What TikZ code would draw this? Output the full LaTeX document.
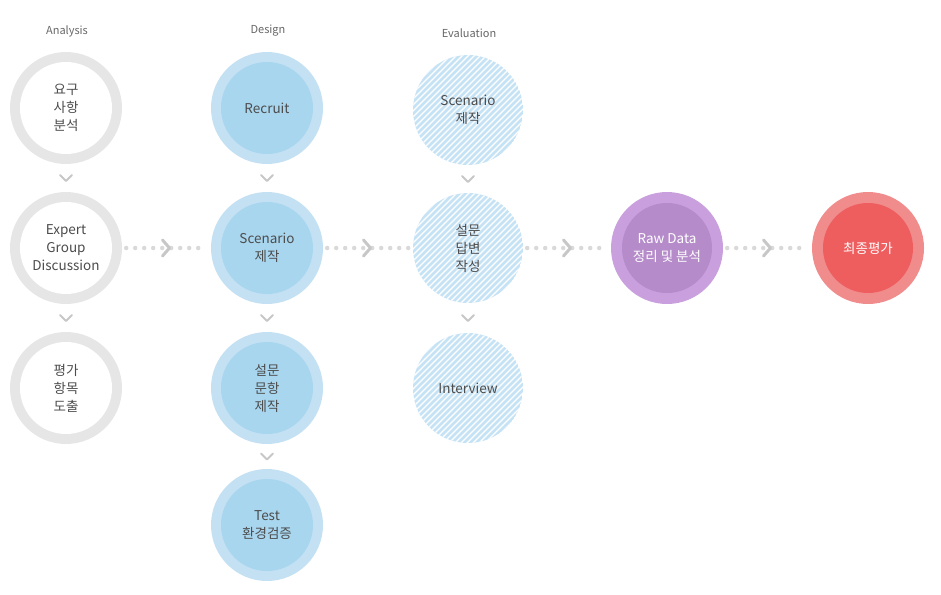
\documentclass[tikz,border=0pt]{standalone}
\usepackage{fontspec}
\setmainfont{Noto Sans CJK KR}
\usetikzlibrary{calc}
\begin{document}
\begin{tikzpicture}[x=1pt,y=-1pt,
  txt/.style={font=\fontsize{13.5}{18}\selectfont, text=black!70, align=center},
  hdr/.style={font=\fontsize{11}{12}\selectfont, text=black!60},
  dotline/.style={draw=black!15, line width=4.5pt, line cap=round, dash pattern=on 0pt off 9pt, shorten >=4pt, shorten <=4pt},
  chev/.style={draw=black!22, line width=3pt, line cap=round, line join=round}]
\definecolor{gring}{HTML}{E6E6E6}
\definecolor{bout}{HTML}{C3E1F2}
\definecolor{bin}{HTML}{A9D6EF}
\definecolor{hatch}{HTML}{C6E2F5}
\definecolor{purout}{HTML}{C9A0DD}
\definecolor{purin}{HTML}{B58BCA}
\definecolor{redout}{HTML}{F08C8C}
\definecolor{redin}{HTML}{EF5E5F}
\useasboundingbox (0,0) rectangle (941,594);
\newcommand\graycirc[3]{\fill[gring] (#1) circle (56); \fill[white] (#1) circle (46);
  \node[txt,circle,minimum size=112pt] (#2) at (#1) {#3};}
\newcommand\bluecirc[3]{\fill[bout] (#1) circle (56); \fill[bin] (#1) circle (46);
  \node[txt,circle,minimum size=112pt] (#2) at (#1) {#3};}
\newcommand\hatchcirc[3]{\begin{scope}\clip (#1) circle (55); \fill[hatch] (#1) circle (55);
  \foreach \k in {-120,-114,...,120} \draw[white,line width=1.3pt] ($(#1)+(\k-60,60)$) -- ++(120,-120);\end{scope}
  \node[txt,circle,minimum size=110pt] (#2) at (#1) {#3};}
\newcommand\vchev[1]{\draw[chev,line width=2pt] ($(#1)+(-6,-3)$) -- ++(6,6) -- ++(6,-6);}
\newcommand\hchev[1]{\draw[chev] ($(#1)+(-4,-8)$) -- ++(7,8) -- ++(-7,8);}
\path (66,108) coordinate (p11) (66,248) coordinate (p12) (66,388) coordinate (p13)
      (267,108) coordinate (p21) (267,248) coordinate (p22) (267,388) coordinate (p23) (267,525) coordinate (p24)
      (468,110) coordinate (p31) (468,248) coordinate (p32) (468,388) coordinate (p33)
      (667,248) coordinate (p4) (868,248) coordinate (p5);
\node[hdr] (h1) at (67,31) {Analysis};
\node[hdr] (h2) at (268,31) {Design};
\node[hdr] (h3) at (469,33) {Evaluation};
\graycirc{p11}{a1}{요구\\사항\\분석}
\graycirc{p12}{a2}{Expert\\Group\\Discussion}
\graycirc{p13}{a3}{평가\\항목\\도출}
\bluecirc{p21}{d1}{Recruit}
\bluecirc{p22}{d2}{Scenario\\제작}
\bluecirc{p23}{d3}{설문\\문항\\제작}
\bluecirc{p24}{d4}{Test\\환경검증}
\hatchcirc{p31}{e1}{Scenario\\제작}
\hatchcirc{p32}{e2}{설문\\답변\\작성}
\hatchcirc{p33}{e3}{Interview}
\fill[purout] (p4) circle (56); \fill[purin] (p4) circle (45);
\node[txt,text=white,circle,minimum size=112pt] (r) at (p4) {Raw Data\\정리 및 분석};
\fill[redout] (p5) circle (56); \fill[redin] (p5) circle (45);
\node[txt,text=white,circle,minimum size=112pt] (f) at (p5) {최종평가};
\draw[dotline] (a2) -- (d2); \draw[dotline] (d2) -- (e2);
\draw[dotline] (e2) -- (r); \draw[dotline] (r) -- (f);
\foreach \a/\b in {a2/d2,d2/e2,e2/r,r/f} \hchev{$(\a)!0.5!(\b)$};
\foreach \a/\b in {a1/a2,a2/a3,d1/d2,d2/d3,d3/d4,e1/e2,e2/e3} \vchev{$(\a)!0.5!(\b)$};
\end{tikzpicture}
\end{document}
